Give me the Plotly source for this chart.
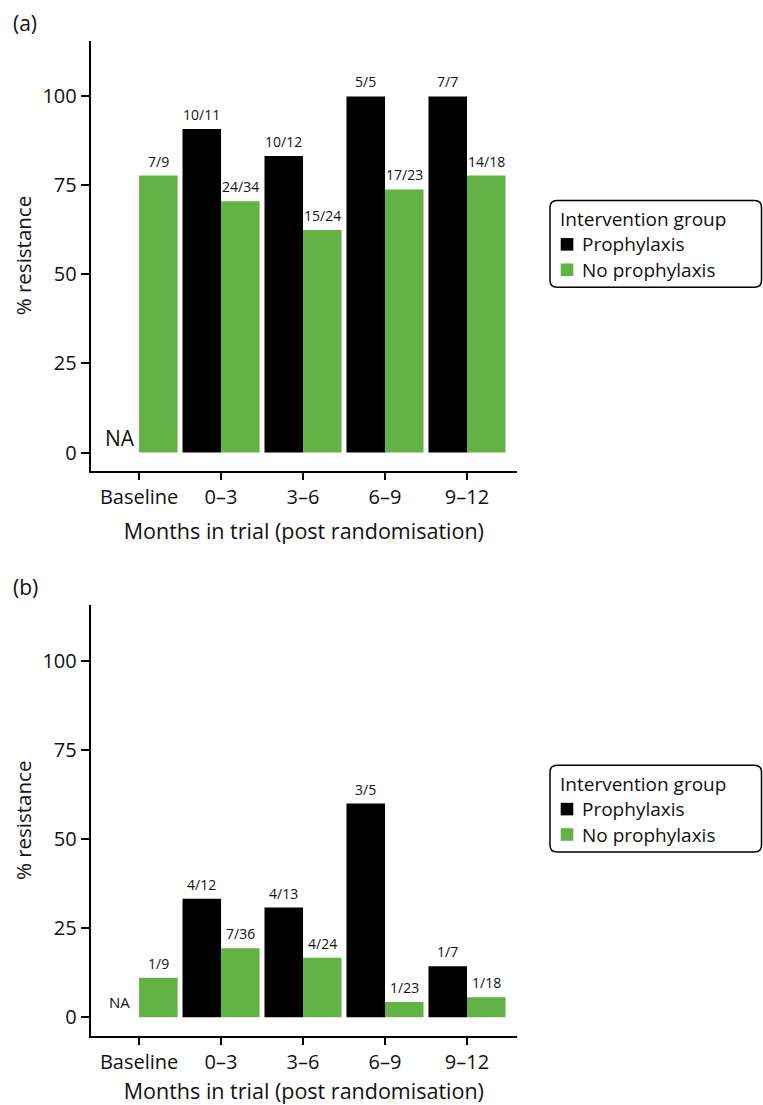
import plotly.graph_objects as go

categories = ["Baseline", "0–3", "3–6", "6–9", "9–12"]
group_names = ["Prophylaxis", "No prophylaxis"]

# Panel (a)
a_proph_pct = [None, 90.9, 83.3, 100.0, 100.0]
a_proph_lbl = ["", "10/11", "10/12", "5/5", "7/7"]
a_noproph_pct = [77.8, 70.6, 62.5, 73.9, 77.8]
a_noproph_lbl = ["7/9", "24/34", "15/24", "17/23", "14/18"]

# Panel (b)
b_proph_pct = [None, 33.3, 30.8, 60.0, 14.3]
b_proph_lbl = ["", "4/12", "4/13", "3/5", "1/7"]
b_noproph_pct = [11.1, 19.4, 16.7, 4.3, 5.6]
b_noproph_lbl = ["1/9", "7/36", "4/24", "1/23", "1/18"]

y_ticks = [0, 25, 50, 75, 100]

BLACK = "#000000"
TEXT = "#111111"
GREEN = "#63b246"
COLORS = [BLACK, GREEN]
FONT = "Open Sans"
W, H = 763, 1105

fig = go.Figure()

panels = [
    dict(p=a_proph_pct, pl=a_proph_lbl, n=a_noproph_pct, nl=a_noproph_lbl,
         xa="x", ya="y", na_size=21, dy=0, label="(a)"),
    dict(p=b_proph_pct, pl=b_proph_lbl, n=b_noproph_pct, nl=b_noproph_lbl,
         xa="x2", ya="y2", na_size=15, dy=566.3, label="(b)"),
]

bargap = 0.06
off = (1 - bargap) / 4

for pan in panels:
    fig.add_trace(go.Bar(x=categories, y=pan["p"], name=group_names[0],
                         marker=dict(color=COLORS[0], line=dict(width=0)),
                         xaxis=pan["xa"], yaxis=pan["ya"], showlegend=False,
                         hoverinfo="skip"))
    fig.add_trace(go.Bar(x=categories, y=pan["n"], name=group_names[1],
                         marker=dict(color=COLORS[1], line=dict(width=0)),
                         xaxis=pan["xa"], yaxis=pan["ya"], showlegend=False,
                         hoverinfo="skip"))

annotations = []
shapes = []
LEG_FONT = 19
for pan in panels:
    for i, cat in enumerate(categories):
        for vals, lbls, sgn in ((pan["p"], pan["pl"], -1), (pan["n"], pan["nl"], 1)):
            if vals[i] is not None:
                annotations.append(dict(x=i + sgn * off, y=vals[i], text=lbls[i],
                                        xref=pan["xa"], yref=pan["ya"], showarrow=False,
                                        yanchor="bottom", yshift=3,
                                        font=dict(size=14, color=TEXT, family=FONT)))
    # NA marker where the prophylaxis bar is missing
    for i, v in enumerate(pan["p"]):
        if v is None:
            annotations.append(dict(x=i - off, y=0, text="NA", xref=pan["xa"], yref=pan["ya"],
                                    showarrow=False, yanchor="middle", yshift=15,
                                    font=dict(size=pan["na_size"], color=TEXT, family=FONT)))
    dy = pan["dy"]
    # panel label
    annotations.append(dict(x=11 / W, y=1 - (22.7 + dy) / H, xref="paper", yref="paper",
                            text=pan["label"], showarrow=False, xanchor="left",
                            yanchor="middle", font=dict(size=21, color=TEXT, family=FONT)))
    # y-axis title
    annotations.append(dict(x=22.5 / W, y=1 - (256.5 + dy) / H, xref="paper", yref="paper",
                            text="% resistance", showarrow=False, textangle=-90,
                            xanchor="center", yanchor="middle",
                            font=dict(size=20.5, color=TEXT, family=FONT)))
    # legend (title, keys, labels) and rounded box
    annotations.append(dict(x=558.5 / W, y=1 - (219.5 + dy) / H, xref="paper", yref="paper",
                            text="Intervention group", showarrow=False, borderpad=0,
                            xanchor="left", yanchor="middle",
                            font=dict(size=LEG_FONT, color=TEXT, family=FONT)))
    for j, (nm, col) in enumerate(zip(group_names, COLORS)):
        cy = 245 + 25.5 * j + dy
        shapes.append(dict(type="rect", xref="paper", yref="paper",
                           x0=560.7 / W, x1=573.3 / W,
                           y0=1 - (cy + 6.3) / H, y1=1 - (cy - 6.3) / H,
                           fillcolor=col, line=dict(width=0)))
        annotations.append(dict(x=581 / W, y=1 - cy / H, xref="paper", yref="paper",
                                text=nm, showarrow=False, xanchor="left", borderpad=0,
                                yanchor="middle",
                                font=dict(size=LEG_FONT, color=TEXT, family=FONT)))


def rounded_box(x0, y0, x1, y1, r):
    X = lambda v: v / W
    Y = lambda v: 1 - v / H
    path = (f"M {X(x0 + r)},{Y(y0)} L {X(x1 - r)},{Y(y0)} "
            f"Q {X(x1)},{Y(y0)} {X(x1)},{Y(y0 + r)} "
            f"L {X(x1)},{Y(y1 - r)} Q {X(x1)},{Y(y1)} {X(x1 - r)},{Y(y1)} "
            f"L {X(x0 + r)},{Y(y1)} Q {X(x0)},{Y(y1)} {X(x0)},{Y(y1 - r)} "
            f"L {X(x0)},{Y(y0 + r)} Q {X(x0)},{Y(y0)} {X(x0 + r)},{Y(y0)} Z")
    return dict(type="path", path=path, xref="paper", yref="paper",
                line=dict(color=BLACK, width=1.5), fillcolor="rgba(0,0,0,0)")


shapes += [rounded_box(550, 201, 761.5, 288, 7), rounded_box(550, 767.3, 761.5, 854.3, 7)]

tick_style = dict(showline=True, linecolor=BLACK, linewidth=2, ticks="outside",
                  tickwidth=2, tickcolor=BLACK, showgrid=False, zeroline=False,
                  tickfont=dict(size=20, color=TEXT, family=FONT))

xdom = [90.7 / W, 517 / W]
xtitle = dict(text="Months in trial (post randomisation)",
              font=dict(size=21.5, color=TEXT, family=FONT))

fig.update_layout(
    width=W, height=H,
    margin=dict(l=0, r=0, t=0, b=0),
    paper_bgcolor="white", plot_bgcolor="white",
    barmode="group", bargap=bargap, bargroupgap=0,
    font=dict(family=FONT, color=TEXT),
    xaxis=dict(domain=xdom, anchor="y", range=[-0.59, 4.61], ticklen=7,
               title=xtitle, **tick_style),
    yaxis=dict(domain=[1 - 472.3 / H, 1 - 40.7 / H], anchor="x", range=[-5.2, 115.7],
               tickvals=y_ticks, ticklen=8, **tick_style),
    xaxis2=dict(domain=xdom, anchor="y2", range=[-0.59, 4.61], ticklen=7,
                title=xtitle, **tick_style),
    yaxis2=dict(domain=[1 - 1039 / H, 1 - 606.7 / H], anchor="x2", range=[-5.3, 115.7],
                tickvals=y_ticks, ticklen=8, **tick_style),
    annotations=annotations,
    shapes=shapes,
)

fig.write_html("out.html")
